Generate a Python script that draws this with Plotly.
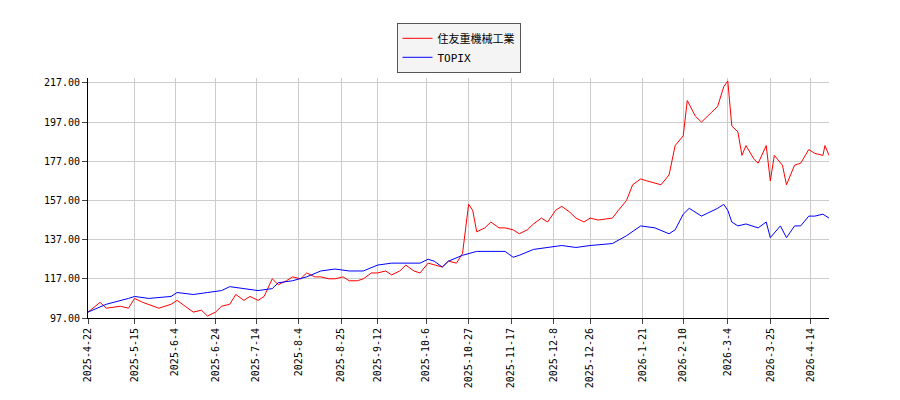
import plotly.graph_objects as go

red_dates = ["2025-04-22","2025-04-28","2025-05-01","2025-05-08","2025-05-12","2025-05-15","2025-05-19","2025-05-22","2025-05-27","2025-06-02","2025-06-05","2025-06-09","2025-06-13","2025-06-17","2025-06-20","2025-06-24","2025-06-27","2025-07-01","2025-07-04","2025-07-08","2025-07-11","2025-07-15","2025-07-18","2025-07-22","2025-07-25","2025-07-29","2025-08-01","2025-08-05","2025-08-08","2025-08-12","2025-08-15","2025-08-19","2025-08-22","2025-08-26","2025-08-29","2025-09-02","2025-09-05","2025-09-09","2025-09-12","2025-09-16","2025-09-19","2025-09-23","2025-09-26","2025-09-30","2025-10-03","2025-10-07","2025-10-10","2025-10-14","2025-10-17","2025-10-21","2025-10-24","2025-10-27","2025-10-29","2025-10-31","2025-11-04","2025-11-07","2025-11-11","2025-11-14","2025-11-18","2025-11-21","2025-11-25","2025-11-28","2025-12-02","2025-12-05","2025-12-09","2025-12-12","2025-12-16","2025-12-19","2025-12-23","2025-12-26","2025-12-30","2026-01-06","2026-01-09","2026-01-13","2026-01-16","2026-01-20","2026-01-23","2026-01-27","2026-01-30","2026-02-03","2026-02-06","2026-02-10","2026-02-12","2026-02-16","2026-02-19","2026-02-24","2026-02-27","2026-03-02","2026-03-04","2026-03-06","2026-03-09","2026-03-11","2026-03-13","2026-03-17","2026-03-19","2026-03-23","2026-03-25","2026-03-27","2026-03-31","2026-04-02","2026-04-06","2026-04-09","2026-04-13","2026-04-16","2026-04-20","2026-04-21","2026-04-23"]
red_vals = [100,105,102,103,102,107,105,104,102,104,106,103,100,101,98,100,103,104,109,106,108,106,108,117,114,116,118,117,120,118,118,117,117,118,116,116,117,120,120,121,119,121,124,121,120,125,124,123,126,125,130,155,152,141,143,146,143,143,142,140,142,145,148,146,152,154,151,148,146,148,147,148,152,157,165,168,167,166,165,170,185,190,208,200,197,202,205,215,218,195,192,180,185,178,176,185,167,180,175,165,175,176,183,181,180,185,180]

blue_dates = ["2025-04-22","2025-05-01","2025-05-12","2025-05-15","2025-05-22","2025-06-02","2025-06-05","2025-06-13","2025-06-20","2025-06-27","2025-07-01","2025-07-08","2025-07-15","2025-07-22","2025-07-25","2025-08-01","2025-08-08","2025-08-15","2025-08-22","2025-08-29","2025-09-05","2025-09-12","2025-09-19","2025-09-26","2025-10-03","2025-10-07","2025-10-10","2025-10-14","2025-10-17","2025-10-24","2025-10-31","2025-11-07","2025-11-14","2025-11-18","2025-11-21","2025-11-28","2025-12-05","2025-12-12","2025-12-19","2025-12-26","2026-01-06","2026-01-13","2026-01-20","2026-01-27","2026-02-03","2026-02-06","2026-02-10","2026-02-13","2026-02-19","2026-02-27","2026-03-02","2026-03-04","2026-03-06","2026-03-09","2026-03-13","2026-03-19","2026-03-23","2026-03-25","2026-03-30","2026-04-02","2026-04-06","2026-04-09","2026-04-13","2026-04-16","2026-04-20","2026-04-23"]
blue_vals = [100,104,107,108,107,108,110,109,110,111,113,112,111,112,115,116,118,121,122,121,121,124,125,125,125,127,126,123,126,129,131,131,131,128,129,132,133,134,133,134,135,139,144,143,140,142,150,153,149,153,155,152,146,144,145,143,146,138,144,138,144,144,149,149,150,148]

tick_vals = ["2025-04-22","2025-05-15","2025-06-04","2025-06-24","2025-07-14","2025-08-04","2025-08-25","2025-09-12","2025-10-06","2025-10-27","2025-11-17","2025-12-08","2025-12-26","2026-01-21","2026-02-10","2026-03-04","2026-03-25","2026-04-14"]
tick_text = ["2025-4-22","2025-5-15","2025-6-4","2025-6-24","2025-7-14","2025-8-4","2025-8-25","2025-9-12","2025-10-6","2025-10-27","2025-11-17","2025-12-8","2025-12-26","2026-1-21","2026-2-10","2026-3-4","2026-3-25","2026-4-14"]
y_ticks = [97,117,137,157,177,197,217]

fig = go.Figure()
fig.add_trace(go.Scatter(x=red_dates, y=red_vals, mode="lines", name="住友重機械工業", line=dict(color="red", width=1)))
fig.add_trace(go.Scatter(x=blue_dates, y=blue_vals, mode="lines", name="TOPIX", line=dict(color="blue", width=1)))
fig.update_layout(
    width=900, height=400, paper_bgcolor="white", plot_bgcolor="white",
    margin=dict(l=80, r=79, t=70, b=90, autoexpand=False),
    font=dict(family="DejaVu Sans Mono, Noto Sans CJK JP", size=11, color="black"),
    legend=dict(x=0.5, xanchor="center", y=1.23, yanchor="top", bordercolor="#555", borderwidth=1,
                bgcolor="#f4f4f4", tracegroupgap=0, itemwidth=30),
    showlegend=True,
)
fig.update_xaxes(range=["2025-04-22","2026-04-23"], tickvals=tick_vals, ticktext=tick_text, tickangle=-90, automargin=False,
                 showgrid=True, gridcolor="#cccccc", showline=True, linecolor="black", ticks="outside", tickfont=dict(size=10))
fig.update_yaxes(range=[97,219.5], tickvals=y_ticks, ticktext=[f"{v:.2f}" for v in y_ticks], automargin=False,
                 showgrid=True, gridcolor="#cccccc", showline=True, linecolor="black", ticks="outside", tickfont=dict(size=10))
fig.write_html("out.html")
